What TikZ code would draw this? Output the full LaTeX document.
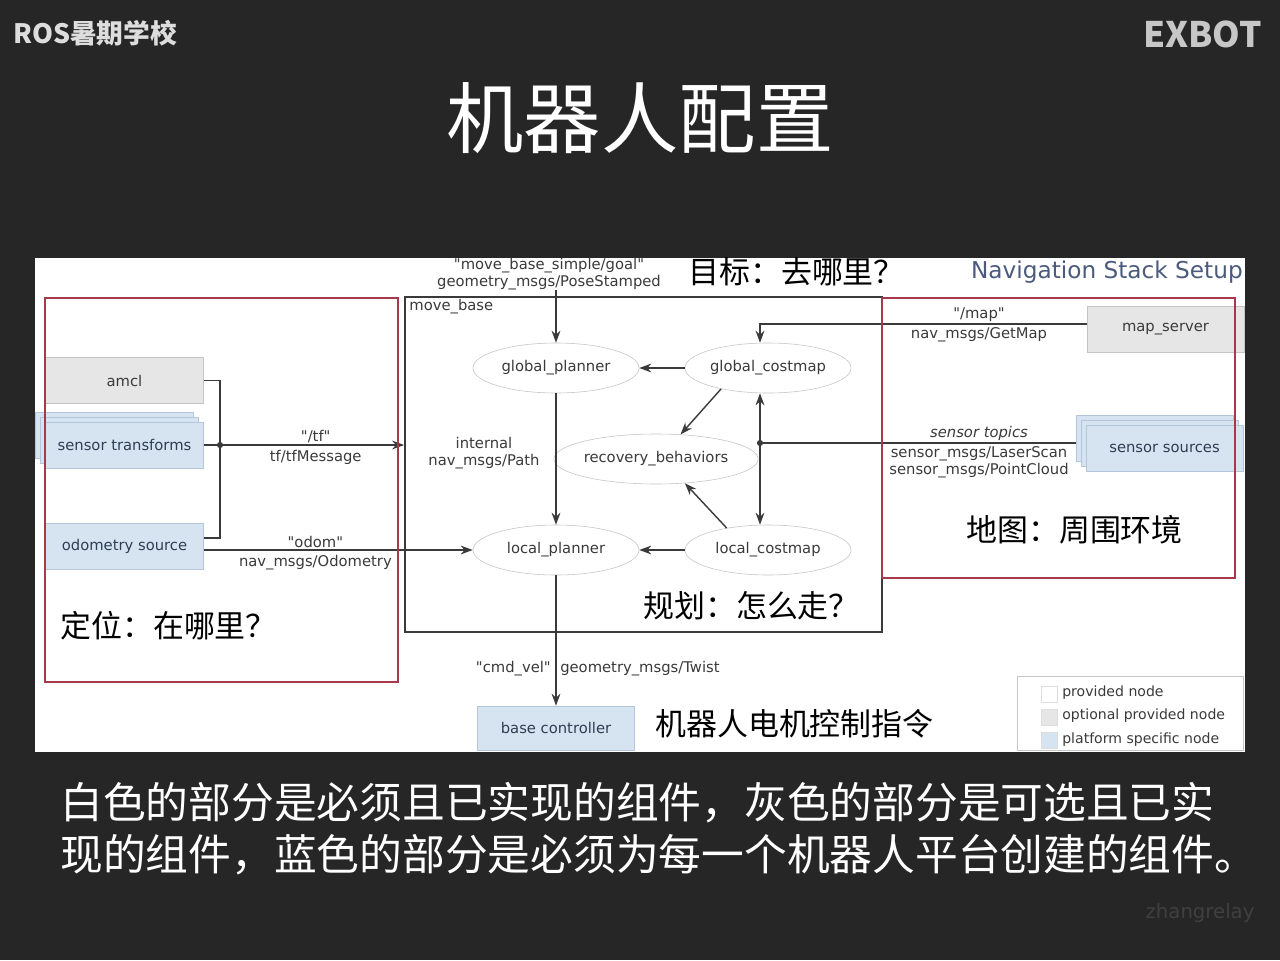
\documentclass[tikz,border=0pt]{standalone}
\usepackage{fontspec}
\setmainfont{DejaVu Sans}
\newfontfamily\cjk{Noto Sans CJK SC}
\usetikzlibrary{positioning, calc, arrows.meta, shapes.geometric, shadows}
\definecolor{Slide}{HTML}{262626}
\definecolor{Paper}{HTML}{FFFFFF}
\definecolor{Ink}{HTML}{3A3A3A}
\definecolor{Edge}{HTML}{C4C4C4}
\definecolor{Grey}{HTML}{E6E6E6}
\definecolor{Blue}{HTML}{D6E4F1}
\definecolor{BlueEdge}{HTML}{B3C6DA}
\definecolor{BlueInk}{HTML}{2E3E52}
\definecolor{Frame}{HTML}{A8394A}
\definecolor{Slate}{HTML}{4B5B7E}
\definecolor{Head}{HTML}{DDDDDD}
\newcommand{\qq}[1]{\textquotedbl#1\textquotedbl}
\tikzset{
    rosnode/.style={ellipse, draw=Edge, fill=Paper, text=Ink, minimum width=4.15cm, minimum height=1.25cm, inner sep=0pt, font=\fontsize{10.5}{12}\selectfont},
    optbox/.style={rectangle, draw=Edge, fill=Grey, text=Ink, minimum width=3.95cm, minimum height=1.15cm, inner sep=0pt, font=\fontsize{10.5}{12}\selectfont},
    platbox/.style={optbox, draw=BlueEdge, fill=Blue, text=BlueInk},
    stacked/.style={double copy shadow={shadow xshift=-0.125cm, shadow yshift=0.125cm}},
    lbl/.style={text=Ink, align=center, font=\fontsize{10.5}{12}\selectfont, inner sep=0pt},
    swatch/.style={rectangle, draw=Edge!60, minimum size=0.4cm, inner sep=0pt},
    arrow/.style={-{Stealth[length=3mm,width=2.2mm]}, line width=1pt, color=Ink},
    wire/.style={line width=1pt, color=Ink},
    zone/.style={draw=Frame, line width=1.4pt},
    note/.style={font=\cjk\fontsize{22}{22}\selectfont, text=black, inner sep=0pt},
}
\begin{document}
\begin{tikzpicture}[x=0.025cm, y=-0.025cm]
    % Slide
    \fill[Slide] (0,0) rectangle (1280,960);
    \useasboundingbox (0,0) rectangle (1280,960);
    \node[font=\cjk\bfseries\fontsize{19}{19}\selectfont, text=Head, anchor=west, inner sep=0pt] (school) at (13,33) {ROS暑期学校};
    \node[font=\cjk\bfseries\fontsize{25}{25}\selectfont, text=Head!90!black, anchor=east, inner sep=0pt] (exbot) at (1262,34) {EXBOT};
    \node[font=\cjk\fontsize{55}{55}\selectfont, text=white, inner sep=0pt] (title) at (640,118) {机器人配置};
    \node[text=Slide!88!white, font=\fontsize{14}{14}\selectfont, inner sep=0pt] (mark) at (1200,913) {zhangrelay};

    % Diagram sheet
    \fill[Paper] (35,258) rectangle (1245,752);
    \node[anchor=east, text=Slate, font=\fontsize{16.5}{16.5}\selectfont, inner sep=0pt] (stacktitle) at (1243,272) {Navigation Stack Setup};

    % move_base
    \node[draw=Ink, line width=1.2pt, minimum width=11.925cm, minimum height=8.375cm, inner sep=0pt] (movebase) at (643.5,464.5) {};
    \node[lbl, anchor=north west] (mbname) at ([shift={(5,3)}]movebase.north west) {move\_base};
    \node[rosnode] (gplanner) at (556,368) {global\_planner};
    \node[rosnode] (gcostmap) at (768,368) {global\_costmap};
    \node[rosnode] (recovery) at (656,459) {recovery\_behaviors};
    \node[rosnode] (lplanner) at (556,550) {local\_planner};
    \node[rosnode] (lcostmap) at (768,550) {local\_costmap};

    % Sources and sinks
    \node[optbox] (amcl) at (124.5,380.5) {amcl};
    \node[platbox, stacked] (sensortf) at (124.5,445) {sensor transforms};
    \node[platbox] (odom) at (124.5,546) {odometry source};
    \node[optbox, minimum width=3.925cm] (mapserver) at (1165.5,329) {map\_server};
    \node[platbox, stacked, minimum width=3.925cm] (sensrc) at (1164.5,448) {sensor sources};
    \node[platbox, minimum width=3.925cm, minimum height=1.1cm] (basectl) at (556,728) {base controller};

    % Connectors
    \coordinate (tfbus) at (220,445);
    \coordinate (sensbus) at (760,443);
    \draw[wire] (amcl.east) -| (tfbus);
    \draw[wire] ([yshift=0.2cm]odom.east) -| (tfbus);
    \draw[wire] (sensortf.east) -- (tfbus);
    \fill[Ink] (tfbus) circle (2.2pt);
    \draw[arrow] (tfbus) -- (tfbus -| movebase.west)
        node[lbl, pos=0.52, above=1pt] {\qq{/tf}}
        node[lbl, pos=0.52, below=3pt] {tf/tfMessage};
    \draw[arrow] (odom.east |- lplanner.west) -- (lplanner.west)
        node[lbl, pos=0.415, above=1pt] {\qq{odom}}
        node[lbl, pos=0.415, below=3pt] {nav\_msgs/Odometry};

    \node[lbl] (goallbl) at (549,274) {\qq{move\_base\_simple/goal}\\geometry\_msgs/PoseStamped};
    \draw[arrow] (gplanner |- goallbl.south) -- (gplanner.north);
    \draw[arrow] (gplanner.south) -- (lplanner.north);
    \node[lbl] (pathlbl) at (484,453) {internal\\nav\_msgs/Path};
    \draw[arrow] (gcostmap.west) -- (gplanner.east);
    \draw[arrow] (lcostmap.west) -- (lplanner.east);
    \draw[arrow] (gcostmap.204) -- (recovery.45);
    \draw[arrow] (lcostmap.152) -- (recovery.-40);

    \draw[arrow] ([yshift=0.125cm]mapserver.west) -| (sensbus |- gcostmap.north);
    \node[lbl] (maplbl) at (979,315) {\qq{/map}};
    \node[lbl] (getmaplbl) at (979,335) {nav\_msgs/GetMap};

    \draw[wire] ([shift={(-10,-5)}]sensrc.west) -- (sensbus);
    \fill[Ink] (sensbus) circle (2.2pt);
    \draw[arrow] (sensbus) -- (sensbus |- gcostmap.south);
    \draw[arrow] (sensbus) -- (sensbus |- lcostmap.north);
    \node[lbl, anchor=south] (topiclbl) at (979,441) {\itshape sensor topics};
    \node[lbl, anchor=north] (msglbl) at (979,446) {sensor\_msgs/LaserScan\\sensor\_msgs/PointCloud};

    \draw[arrow] (lplanner.south) -- (basectl.north);
    \node[lbl, anchor=east] (cmdlbl) at (551,669) {\qq{cmd\_vel}};
    \node[lbl, anchor=west] (twistlbl) at (560,669) {geometry\_msgs/Twist};

    % Legend
    \node[draw=Edge, minimum width=5.65cm, minimum height=1.85cm, inner sep=0pt] (legend) at (1130,713) {};
    \node[swatch, fill=Paper] (sw1) at (1049,694) {};
    \node[swatch, fill=Grey] (sw2) at (1049,717) {};
    \node[swatch, fill=Blue] (sw3) at (1049,740) {};
    \node[lbl, anchor=west, font=\fontsize{10}{10}\selectfont] (lg1) at (1062,693) {provided node};
    \node[lbl, anchor=west, font=\fontsize{10}{10}\selectfont] (lg2) at (1062,716) {optional provided node};
    \node[lbl, anchor=west, font=\fontsize{10}{10}\selectfont] (lg3) at (1062,740) {platform specific node};

    % Zones
    \draw[zone] (45,298) rectangle (398,682);
    \draw[zone] (882,298) rectangle (1235,578);

    % Notes
    \node[note, anchor=west] (goalnote) at (688,272) {目标：去哪里？};
    \node[note, anchor=west] (mapnote) at (966,530) {地图：周围环境};
    \node[note, anchor=west] (plannote) at (643,606) {规划：怎么走？};
    \node[note, anchor=west] (locnote) at (60,626) {定位：在哪里？};
    \node[note, anchor=west] (motornote) at (655,724) {机器人电机控制指令};

    % Caption
    \node[font=\cjk\fontsize{30.4}{30.4}\selectfont, text=white, anchor=west, inner sep=0pt] (cap1) at (60,803) {白色的部分是必须且已实现的组件，灰色的部分是可选且已实};
    \node[font=\cjk\fontsize{30.4}{30.4}\selectfont, text=white, anchor=west, inner sep=0pt] (cap2) at (60,855) {现的组件，蓝色的部分是必须为每一个机器人平台创建的组件。};
\end{tikzpicture}
\end{document}
